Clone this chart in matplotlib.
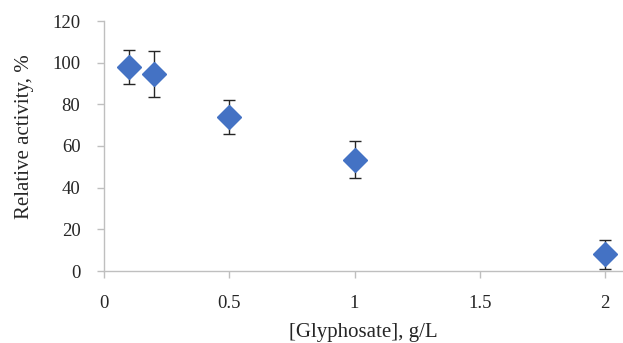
import matplotlib.pyplot as plt

# Data
glyphosate = [0.1, 0.2, 0.5, 1.0, 2.0]          # g/L
activity = [98.0, 94.5, 74.0, 53.5, 8.0]        # relative activity, %
err_low = [8.0, 11.0, 8.0, 9.0, 7.0]
err_high = [8.0, 11.0, 8.0, 9.0, 7.0]

x_ticks = [0, 0.5, 1, 1.5, 2]
x_tick_labels = ['0', '0.5', '1', '1.5', '2']
y_ticks = [0, 20, 40, 60, 80, 100, 120]

BLUE = '#4472C4'
AXIS = '#BFBFBF'
TEXT = '#262626'

plt.rcParams.update({
    'font.family': ['Liberation Serif', 'DejaVu Serif'],
    'font.size': 13.5,
})

fig = plt.figure(figsize=(6.23, 3.43), dpi=100)
ax = fig.add_axes([104 / 623, 1 - 271 / 343, (622 - 104) / 623, 250 / 343])

ax.errorbar(glyphosate, activity, yerr=[err_low, err_high], fmt='none',
            ecolor='#262626', elinewidth=1.0, capsize=4, capthick=1.0, zorder=2)
ax.plot(glyphosate, activity, 'D', color=BLUE, ms=12, mec=BLUE, zorder=3)

ax.set_xlim(0, (622 - 104) / 250.5)
ax.set_ylim(0, 120)
ax.set_xticks(x_ticks)
ax.set_xticklabels(x_tick_labels)
ax.set_yticks(y_ticks)

for side in ['top', 'right']:
    ax.spines[side].set_visible(False)
for side in ['left', 'bottom']:
    ax.spines[side].set_color(AXIS)
    ax.spines[side].set_linewidth(1.0)

ax.tick_params(axis='both', direction='out', length=5, width=1.0,
               color=AXIS, labelcolor=TEXT, labelsize=13.5)
ax.tick_params(axis='y', pad=12)
ax.tick_params(axis='x', pad=12)

ax.set_xlabel('[Glyphosate], g/L', color=TEXT, fontsize=15, labelpad=8)
ax.set_ylabel('Relative activity, %', color=TEXT, fontsize=15)
ax.yaxis.set_label_coords(-0.136, 0.536)

fig.savefig('out.png', dpi=100)
